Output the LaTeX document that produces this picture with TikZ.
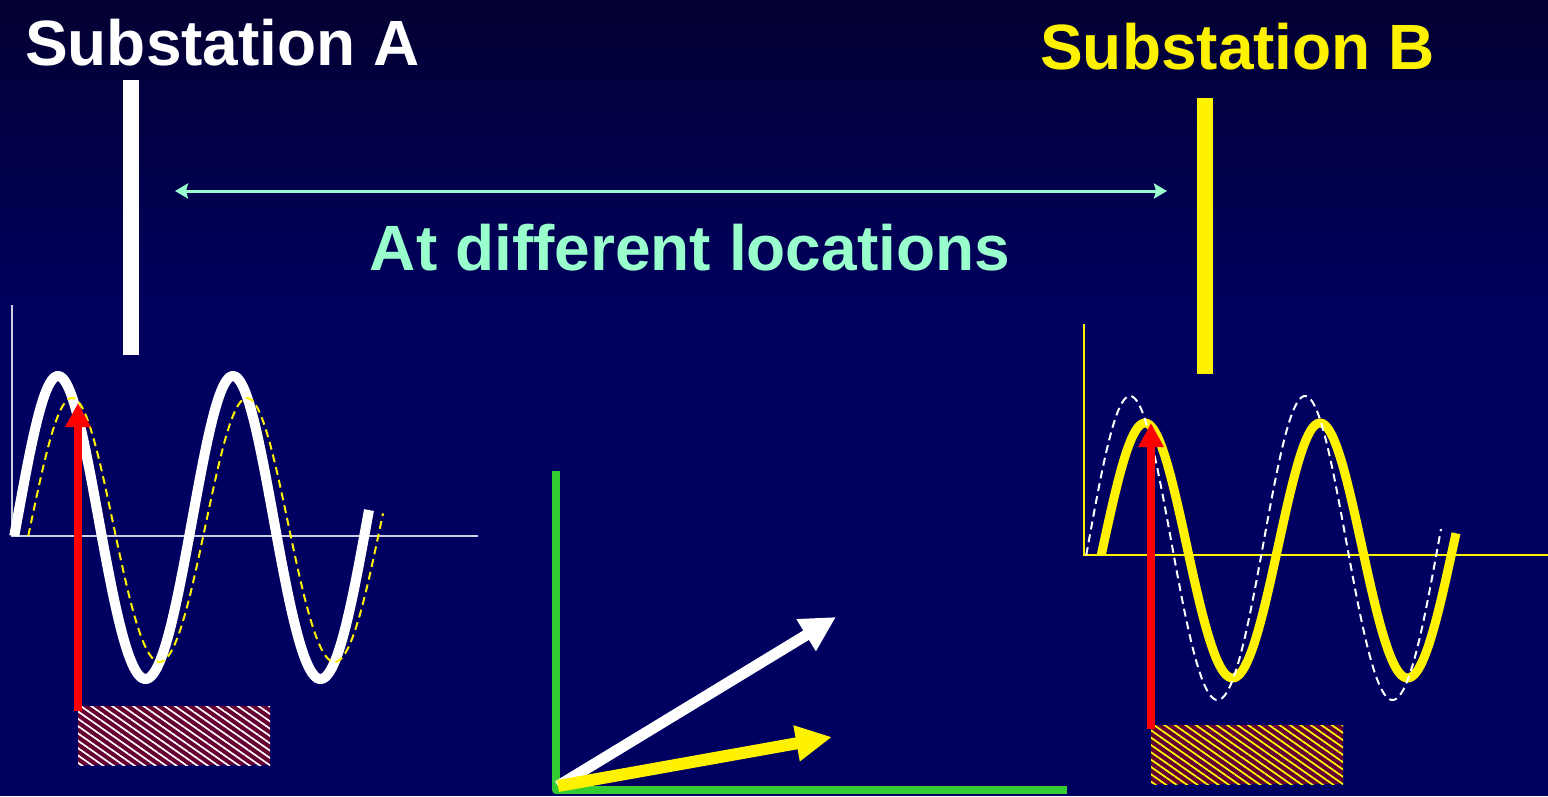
\documentclass[tikz,border=0pt]{standalone}
\usepackage{fontspec}
\setmainfont{Liberation Sans}
\usetikzlibrary{arrows.meta,patterns.meta}
\definecolor{navy}{RGB}{0,0,96}
\definecolor{navytop}{RGB}{3,0,50}
\definecolor{aqua}{RGB}{153,255,204}
\definecolor{axisgray}{RGB}{205,205,225}
\definecolor{maroonfill}{RGB}{102,0,51}
\definecolor{phasorgreen}{RGB}{51,204,51}
\tikzset{
    slide diagram/.style = {x=1pt, y=-1pt,
                            declare function={lopsine(\t,\u,\d)=
                              -((\u+\d)/2)*sin(\t)-((\u-\d)/2)*sin(\t)*sin(\t);}},
    title/.style       = {font=\bfseries\fontsize{64}{70}\selectfont,
                          inner sep=0pt, anchor=base west},
    busbar/.style      = {line width=16pt},
    plot axis/.style   = {line width=1.6pt},
    main wave/.style   = {line width=10pt},
    shifted wave/.style = {line width=2pt, dash pattern=on 8pt off 5pt},
    angle arrow/.style = {red, line width=8pt,
                          -{Triangle[length=24pt,width=24pt]}},
    hatch box/.style   = {fill=maroonfill, inner sep=0pt,
                          minimum width=192pt, minimum height=59pt,
                          postaction={pattern={Lines[angle=-35,distance=6pt,
                                      line width=1.7pt]}, pattern color=#1}},
    phasor/.style      = {line width=11pt,
                          -{Triangle[length=35pt,width=35pt]}}
}
\def\axisArow{536}
\def\axisBrow{555}
\def\period{175}

\begin{document}
\begin{tikzpicture}[slide diagram]
\useasboundingbox (0,0) rectangle (1548,796);
\fill[top color=navytop, bottom color=navy] (0,0) rectangle (1548,320);
\fill[navy] (0,320) rectangle (1548,796);

% Titles, bus bars and the distance between them.
\node[title, white] (subA) at (25,65) {Substation A};
\node[title, yellow] (subB) at (1040,69) {Substation B};
\draw[busbar, white] (131,80) -- (131,355);
\draw[busbar, yellow] (1205,98) -- (1205,374);
\coordinate (distL) at (175,191);
\coordinate (distR) at (1167,191);
\draw[aqua, line width=3pt,
      {Stealth[length=13pt,width=15pt,inset=2pt]}-{Stealth[length=13pt,width=15pt,inset=2pt]}]
  (distL) -- (distR);
\node[font=\bfseries\fontsize{64}{70}\selectfont, text=aqua, inner sep=0pt,
      anchor=base] (where) at (690,270) {At different locations};

% Substation A: local wave (solid) against the one at B (dashed).
\draw[plot axis, axisgray] (12,305) -- (12,\axisArow) -- (478,\axisArow);
\draw[main wave, white] plot[domain=14.25:369, samples=200]
  (\x, {\axisArow+lopsine((\x-14.25)/\period*360,160,143)});
\draw[shifted wave, yellow] plot[domain=28.25:383, samples=200]
  (\x, {\axisArow+lopsine((\x-28.25)/\period*360,138,126)});
\node[hatch box=white] (boxA) at (174,735.5) {};
\coordinate (tailA) at (78,711);
\coordinate (peakA) at (78,403);
\draw[angle arrow] (tailA) -- (peakA);

% Substation B: local wave (solid) against the one at A (dashed).
\draw[main wave, yellow, line width=9pt] plot[domain=1101.25:1456, samples=200]
  (\x, {\axisBrow+lopsine((\x-1101.25)/\period*360,132,123)});
\draw[plot axis, yellow] (1084,324) -- (1084,\axisBrow) -- (1548,\axisBrow);
\draw[shifted wave, white] plot[domain=1086.25:1441, samples=200]
  (\x, {\axisBrow+lopsine((\x-1086.25)/\period*360,159,145)});
\node[hatch box=yellow] (boxB) at (1247,754.5) {};
\coordinate (tailB) at (1151,729);
\coordinate (peakB) at (1151,423);
\draw[angle arrow] (tailB) -- (peakB);

% Phasor plane.
\coordinate (origin) at (558,786);
\draw[phasorgreen, line width=8pt, line join=round]
  (556,471) -- (556,790) -- (1067,790);
\coordinate (phasorA) at (836,617);
\coordinate (phasorB) at (832,737);
\draw[phasor, white] (origin) -- (phasorA);
\draw[phasor, yellow, line width=12pt,
      -{Triangle[length=36pt,width=34pt]}] (origin) -- (phasorB);

\end{tikzpicture}
\end{document}
